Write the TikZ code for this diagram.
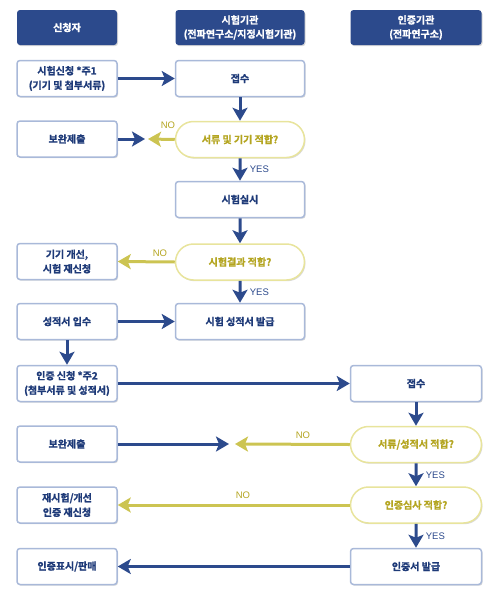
\documentclass[tikz,border=0pt]{standalone}
\usepackage{fontspec}
\setmainfont{Noto Sans CJK KR}[BoldFont={Noto Sans CJK KR Bold},BoldFeatures={FakeBold=1.2}]
\newfontfamily\lat{Liberation Sans}
\usetikzlibrary{arrows.meta,shadows,shapes.misc}
\definecolor{hdr}{HTML}{2C4A8C}
\definecolor{bord}{HTML}{A9B9D9}
\definecolor{txt}{HTML}{1E3A78}
\definecolor{ybord}{HTML}{E8E49C}
\definecolor{ytxt}{HTML}{B4A520}
\definecolor{yarr}{HTML}{CCC452}
\definecolor{barr}{HTML}{2C4A8C}
\begin{document}
\begin{tikzpicture}[x=1pt,y=-1pt,
  shad/.style={drop shadow={shadow xshift=1pt,shadow yshift=-1.2pt,opacity=0.25,fill=black!60}},
  hdrbox/.style={fill=hdr,rounded corners=3pt,text=white,font=\bfseries\fontsize{10}{14}\selectfont,
     align=center,minimum height=35pt,inner sep=0pt,shad},
  procbox/.style={draw=bord,line width=1.5pt,fill=white,rounded corners=3pt,text=txt,
     font=\bfseries\fontsize{10}{14.5}\selectfont,align=center,minimum height=36pt,inner sep=0pt,shad},
  decbox/.style={rounded rectangle,draw=ybord,line width=1.5pt,fill=white,text=ytxt,
     font=\bfseries\fontsize{10}{14}\selectfont,align=center,minimum height=36pt,inner sep=0pt,shad},
  w1/.style={minimum width=100pt},
  w2/.style={minimum width=129pt},
  w3/.style={minimum width=131pt},
  barrow/.style={draw=barr,line width=3pt,-{Stealth[length=13pt,width=15pt,inset=3pt]}},
  yarrow/.style={draw=yarr,line width=3pt,-{Stealth[length=13pt,width=15pt,inset=3pt]}},
  nolab/.style={text=ytxt,font=\lat\fontsize{9.5}{10}\selectfont},
  yeslab/.style={text=barr,font=\lat\fontsize{9.5}{10}\selectfont}
]
\useasboundingbox (0,0) rectangle (500,600);
% headers
\node[hdrbox,w1] (h1) at (67,27.5) {신청자};
\node[hdrbox,w2] (h2) at (240,27.5) {시험기관\\(전파연구소/지정시험기관)};
\node[hdrbox,w3] (h3) at (416,27.5) {인증기관\\(전파연구소)};
% column 1
\node[procbox,w1] (a1) at (67,78.5) {시험신청 *주1\\(기기 및 첨부서류)};
\node[procbox,w1] (a2) at (67,139) {보완제출};
\node[procbox,w1] (a4) at (67,261.5) {기기 개선,\\시험 재신청};
\node[procbox,w1] (a5) at (67,321.5) {성적서 입수};
\node[procbox,w1] (a6) at (67,383.5) {인증 신청 *주2\\(첨부서류 및 성적서)};
\node[procbox,w1] (a7) at (67,444) {보완제출};
\node[procbox,w1] (a8) at (67,505) {재시험/개선\\인증 재신청};
\node[procbox,w1] (a9) at (67,566.5) {인증표시/판매};
% column 2
\node[procbox,w2] (b1) at (240,78.5) {접수};
\node[decbox,w2] (d1) at (240,139.5) {서류 및 기기 적합?};
\node[procbox,w2] (b3) at (240,199.5) {시험실시};
\node[decbox,w2] (d2) at (240,262) {시험결과 적합?};
\node[procbox,w2] (b5) at (240,321.5) {시험 성적서 발급};
% column 3
\node[procbox,w3] (c6) at (416,383.5) {접수};
\node[decbox,w3] (d3) at (416,444.5) {서류/성적서 적합?};
\node[decbox,w3] (d4) at (416,505) {인증심사 적합?};
\node[procbox,w3] (c9) at (416,566.5) {인증서 발급};
% meeting points
\coordinate (m1) at (145,139);
\coordinate (m1y) at (148,139);
\coordinate (m2) at (229,444);
\coordinate (m2y) at (235,444);
% arrows
\draw[barrow] (a1) -- (b1);
\draw[barrow] (b1) -- (d1);
\draw[barrow] (a2) -- (m1);
\draw[yarrow] (d1.west) -- (m1y);
\node[nolab] (n1) at (168,125) {NO};
\draw[barrow] (d1) -- (b3) node[yeslab,pos=0.5,right=5pt] (y1) {YES};
\draw[barrow] (b3) -- (d2);
\draw[yarrow] (d2.west) -- (a4.east);
\node[nolab] (n2) at (160,253) {NO};
\draw[barrow] (d2) -- (b5) node[yeslab,pos=0.5,right=5pt] (y2) {YES};
\draw[barrow] (a5) -- (b5);
\draw[barrow] (a5) -- (a6);
\draw[barrow] (a6) -- (c6);
\draw[barrow] (c6) -- (d3);
\draw[barrow] (a7) -- (m2);
\draw[yarrow] (d3.west) -- (m2y);
\node[nolab] (n3) at (303,435) {NO};
\draw[barrow] (d3) -- (d4) node[yeslab,pos=0.5,right=5pt] (y3) {YES};
\draw[yarrow] (d4.west) -- (a8.east);
\node[nolab] (n4) at (243,495) {NO};
\draw[barrow] (d4) -- (c9) node[yeslab,pos=0.5,right=5pt] (y4) {YES};
\draw[barrow] (c9) -- (a9);
\end{tikzpicture}
\end{document}
